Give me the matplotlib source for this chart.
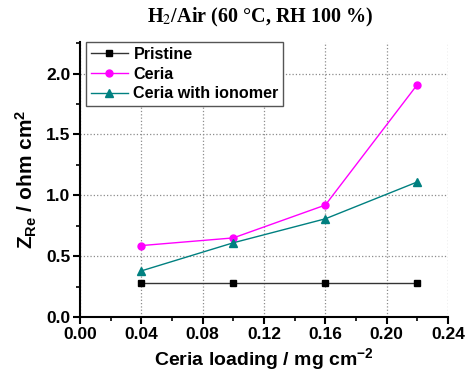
import matplotlib
matplotlib.use("Agg")
import matplotlib.pyplot as plt
from matplotlib.ticker import MultipleLocator

loading = [0.04, 0.10, 0.16, 0.22]
pristine = [0.277, 0.277, 0.277, 0.277]
ceria = [0.587, 0.65, 0.92, 1.91]
ceria_ionomer = [0.379, 0.61, 0.807, 1.11]

plt.rcParams['mathtext.fontset'] = 'custom'
plt.rcParams['mathtext.rm'] = 'Liberation Sans:bold'
plt.rcParams['mathtext.it'] = 'Liberation Sans:bold'
plt.rcParams['mathtext.bf'] = 'Liberation Sans:bold'

fig = plt.figure(figsize=(4.65, 3.77), dpi=100)
ax = fig.add_axes([80/465, 1-317/377, (448-80)/465, (317-42)/377])

ax.plot(loading, pristine, color='#333333', lw=1.0, marker='s', ms=5,
        mfc='black', mec='black', label='Pristine')
ax.plot(loading, ceria, color='#ff00ff', lw=1.0, marker='o', ms=5,
        mfc='#ff00ff', mec='#ff00ff', label='Ceria')
ax.plot(loading, ceria_ionomer, color='#008080', lw=1.0, marker='^', ms=6,
        mfc='#008080', mec='#008080', label='Ceria with ionomer')

ax.set_xlim(0, 0.24)
ax.set_ylim(0, 2.26)
ax.xaxis.set_major_locator(MultipleLocator(0.04))
ax.xaxis.set_minor_locator(MultipleLocator(0.02))
ax.yaxis.set_major_locator(MultipleLocator(0.5))
ax.yaxis.set_minor_locator(MultipleLocator(0.25))
ax.xaxis.set_major_formatter(plt.FuncFormatter(lambda v, p: f"{v:.2f}"))
ax.yaxis.set_major_formatter(plt.FuncFormatter(lambda v, p: f"{v:.1f}"))

for s in ['top', 'right']:
    ax.spines[s].set_visible(False)
for s in ['left', 'bottom']:
    ax.spines[s].set_linewidth(1.5)
ax.tick_params(which='major', direction='out', length=5, width=1.5,
               labelsize=12.5, pad=2)
ax.tick_params(which='minor', direction='out', length=3, width=1.2)
for lab in ax.get_xticklabels() + ax.get_yticklabels():
    lab.set_fontfamily('Liberation Sans')
    lab.set_fontweight('bold')
ax.set_axisbelow(True)
ax.grid(True, which='major', color='#8c8c8c', linestyle=':', linewidth=0.9)

ax.set_xlabel('Ceria loading / mg cm$^{-2}$', fontsize=14, fontweight='bold',
              family='Liberation Sans', labelpad=3)
ax.set_ylabel('Z$_{Re}$ / ohm cm$^{2}$', fontsize=15, fontweight='bold',
              family='Liberation Sans', labelpad=5)

fig.text(0.56, 0.953, 'H$_2$/Air (60 °C, RH 100 %)', ha='center', va='center',
         fontsize=14.5, fontweight='bold', family='Liberation Serif',
         math_fontfamily='stix')

leg = ax.legend(loc='upper left', bbox_to_anchor=(0.016, 1.0), frameon=True,
                fancybox=False, edgecolor='#555555', framealpha=1,
                prop={'family': 'Liberation Sans', 'weight': 'bold', 'size': 11.6},
                handlelength=2.3, borderpad=0.3, labelspacing=0.3,
                handletextpad=0.35, borderaxespad=0.0)
leg.get_frame().set_linewidth(1.0)

fig.savefig('out.png', dpi=100)
